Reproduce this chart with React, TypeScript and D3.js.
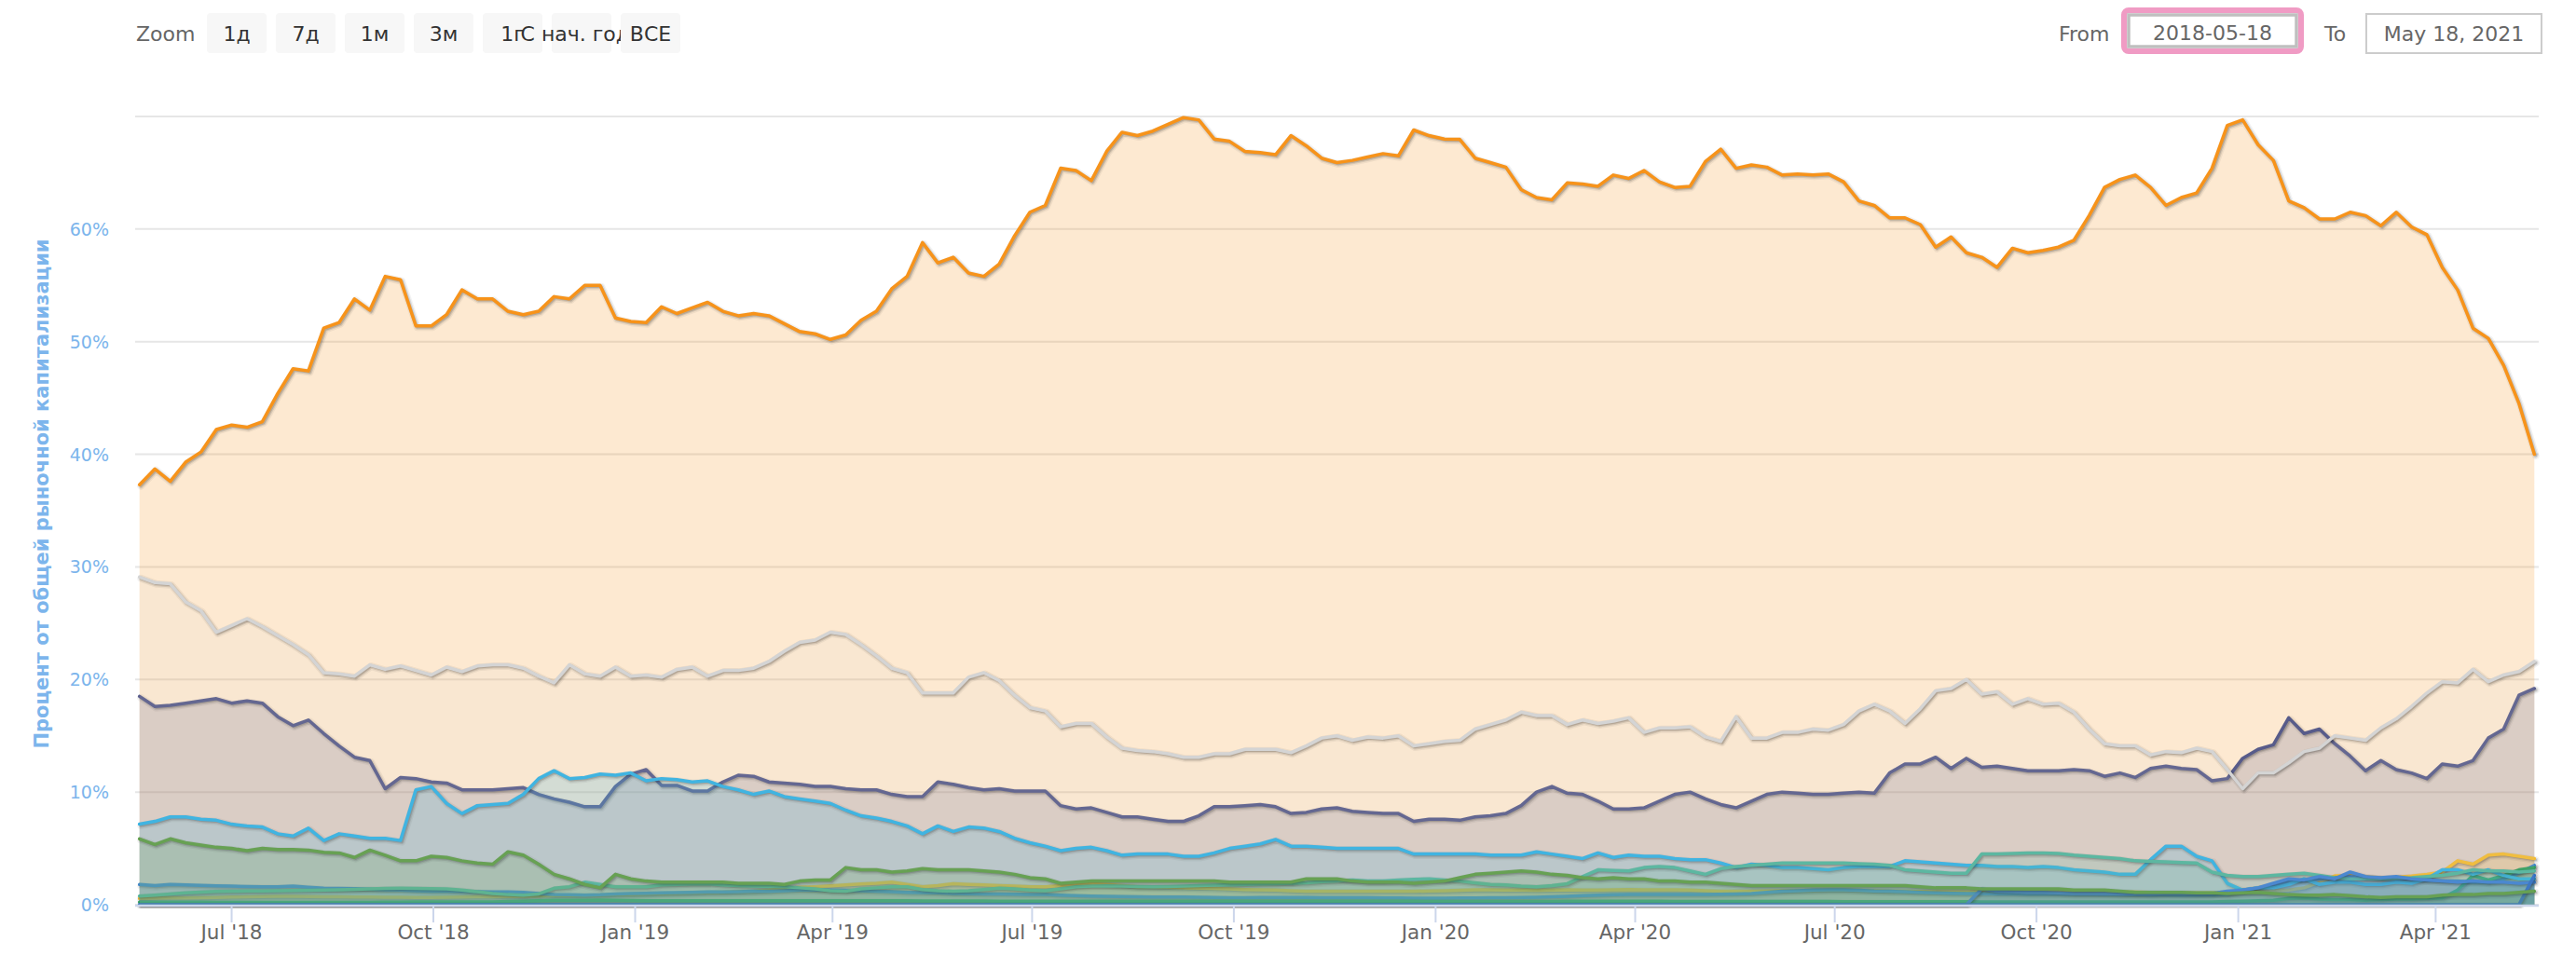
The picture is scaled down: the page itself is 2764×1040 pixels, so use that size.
import React from 'react';
import * as d3 from 'd3';

const W = 2764;
const H = 1040;
const FONT = "'DejaVu Sans', Verdana, sans-serif";

// weekly snapshots starting 2018-05-20
const START = new Date(2018, 4, 20);
const DOMAIN_START = new Date(2018, 4, 18);
const DOMAIN_END = new Date(2021, 4, 18);

const zoomButtons = ['1д', '7д', '1м', '3м', '1г', 'С нач. года', 'ВСЕ'];
const yTicks = [0, 10, 20, 30, 40, 50, 60, 70];
const yTickLabels = ['0%', '10%', '20%', '30%', '40%', '50%', '60%'];
const yTitle = 'Процент от общей рыночной капитализации';
const fromLabel = '2018-05-18';
const toLabel = 'May 18, 2021';

const btc = [
  37.3, 38.7, 37.6, 39.3, 40.2, 42.2, 42.6, 42.4, 42.9, 45.4,
  47.6, 47.4, 51.2, 51.7, 53.8, 52.8, 55.8, 55.5, 51.4, 51.4,
  52.4, 54.6, 53.8, 53.8, 52.7, 52.4, 52.7, 54.0, 53.8, 55.0,
  55.0, 52.1, 51.8, 51.7, 53.1, 52.5, 53.0, 53.5, 52.7, 52.3,
  52.5, 52.3, 51.6, 50.9, 50.7, 50.2, 50.6, 51.9, 52.7, 54.7,
  55.8, 58.8, 57.0, 57.5, 56.1, 55.8, 56.9, 59.4, 61.5, 62.1,
  65.4, 65.2, 64.3, 66.9, 68.6, 68.3, 68.7, 69.3, 69.9, 69.7,
  68.0, 67.8, 66.9, 66.8, 66.6, 68.3, 67.4, 66.3, 65.9, 66.1,
  66.4, 66.7, 66.5, 68.8, 68.3, 68.0, 67.97, 66.3, 65.9, 65.5,
  63.5, 62.8, 62.6, 64.1, 64.0, 63.8, 64.8, 64.5, 65.2, 64.2,
  63.7, 63.8, 66.0, 67.1, 65.4, 65.7, 65.5, 64.8, 64.9, 64.8,
  64.9, 64.2, 62.5, 62.1, 61.0, 61.0, 60.4, 58.4, 59.3, 57.9,
  57.5, 56.6, 58.3, 57.9, 58.1, 58.4, 59.0, 61.2, 63.7, 64.4,
  64.8, 63.7, 62.1, 62.8, 63.2, 65.4, 69.2, 69.7, 67.5, 66.1,
  62.5, 61.9, 60.9, 60.9, 61.5, 61.2, 60.3, 61.5, 60.2, 59.5,
  56.6, 54.6, 51.2, 50.3, 47.9, 44.5, 40.0,
];

const eth = [
  18.5, 17.6, 17.7, 17.9, 18.1, 18.3, 17.9, 18.1, 17.9, 16.7,
  15.9, 16.4, 15.2, 14.1, 13.1, 12.8, 10.3, 11.3, 11.2, 10.9,
  10.8, 10.2, 10.2, 10.2, 10.3, 10.4, 9.8, 9.4, 9.1, 8.7,
  8.7, 10.5, 11.6, 12.0, 10.6, 10.6, 10.1, 10.1, 10.9, 11.5,
  11.4, 10.9, 10.8, 10.7, 10.5, 10.5, 10.3, 10.2, 10.2, 9.8,
  9.6, 9.6, 10.9, 10.7, 10.4, 10.2, 10.3, 10.1, 10.1, 10.1,
  8.8, 8.5, 8.6, 8.2, 7.8, 7.8, 7.6, 7.4, 7.4, 7.9,
  8.7, 8.7, 8.8, 8.9, 8.7, 8.1, 8.2, 8.5, 8.6, 8.3,
  8.2, 8.1, 8.1, 7.4, 7.6, 7.6, 7.5, 7.8, 7.9, 8.1,
  8.8, 10.0, 10.5, 9.9, 9.8, 9.2, 8.5, 8.5, 8.6, 9.2,
  9.8, 10.0, 9.4, 8.9, 8.6, 9.2, 9.8, 10.0, 9.9, 9.8,
  9.8, 9.9, 10.0, 9.9, 11.7, 12.5, 12.5, 13.1, 12.1, 13.0,
  12.2, 12.3, 12.1, 11.9, 11.9, 11.9, 12.0, 11.9, 11.4, 11.7,
  11.3, 12.1, 12.3, 12.1, 12.0, 11.0, 11.2, 13.0, 13.8, 14.2,
  16.6, 15.2, 15.6, 14.3, 13.2, 11.9, 12.8, 12.0, 11.7, 11.2,
  12.5, 12.3, 12.8, 14.8, 15.6, 18.6, 19.2,
];

const bnb = [
  0.55, 0.58, 0.6, 0.6, 0.62, 0.65, 0.68, 0.7, 0.72, 0.75,
  0.75, 0.72, 0.7, 0.7, 0.68, 0.68, 0.66, 0.66, 0.65, 0.65,
  0.66, 0.68, 0.7, 0.7, 0.72, 0.75, 0.77, 0.8, 0.8, 0.82,
  0.85, 0.9, 0.91, 0.95, 1.0, 1.02, 1.05, 1.1, 1.12, 1.15,
  1.2, 1.3, 1.45, 1.55, 1.6, 1.68, 1.75, 1.85, 1.9, 2.0,
  1.8, 1.6, 1.7, 1.87, 1.8, 1.75, 1.7, 1.65, 1.6, 1.6,
  1.7, 1.75, 1.87, 1.8, 1.7, 1.6, 1.6, 1.55, 1.5, 1.46,
  1.45, 1.4, 1.35, 1.32, 1.3, 1.25, 1.2, 1.2, 1.19, 1.19,
  1.19, 1.2, 1.2, 1.2, 1.22, 1.25, 1.28, 1.32, 1.32, 1.3,
  1.3, 1.28, 1.3, 1.32, 1.3, 1.3, 1.32, 1.35, 1.32, 1.32,
  1.32, 1.3, 1.25, 1.2, 1.19, 1.2, 1.22, 1.24, 1.26, 1.28,
  1.3, 1.32, 1.28, 1.25, 1.2, 1.19, 1.18, 1.15, 1.13, 1.13,
  1.15, 1.18, 1.19, 1.19, 1.2, 1.19, 1.19, 1.17, 1.15, 1.14,
  1.13, 1.1, 1.08, 1.05, 1.05, 1.06, 1.1, 1.13, 1.18, 1.25,
  1.3, 1.5, 2.0, 2.56, 2.6, 2.5, 2.4, 2.45, 2.55, 2.7,
  2.9, 3.9, 3.6, 4.4, 4.5, 4.3, 4.1,
];

const ada = [
  1.79, 1.7, 1.8, 1.75, 1.72, 1.68, 1.65, 1.62, 1.6, 1.6,
  1.65, 1.55, 1.46, 1.45, 1.42, 1.38, 1.32, 1.3, 1.25, 1.19,
  1.19, 1.17, 1.15, 1.13, 1.13, 1.1, 1.0, 0.91, 0.88, 0.85,
  0.88, 0.96, 1.0, 1.02, 1.05, 1.08, 1.1, 1.13, 1.13, 1.15,
  1.19, 1.2, 1.25, 1.3, 1.32, 1.3, 1.28, 1.25, 1.2, 1.15,
  1.1, 1.08, 1.05, 1.0, 0.98, 0.96, 0.95, 0.93, 0.91, 0.9,
  0.85, 0.8, 0.77, 0.75, 0.72, 0.7, 0.69, 0.69, 0.68, 0.67,
  0.65, 0.63, 0.63, 0.64, 0.65, 0.65, 0.64, 0.63, 0.63, 0.62,
  0.62, 0.6, 0.6, 0.58, 0.58, 0.58, 0.6, 0.6, 0.62, 0.63,
  0.65, 0.66, 0.7, 0.75, 0.8, 0.85, 0.88, 0.9, 0.9, 0.91,
  0.91, 0.91, 0.92, 0.93, 0.95, 1.0, 1.1, 1.2, 1.25, 1.3,
  1.32, 1.32, 1.28, 1.22, 1.2, 1.15, 1.1, 1.05, 1.02, 1.0,
  1.0, 0.98, 0.97, 0.96, 0.95, 0.95, 0.94, 0.93, 0.92, 0.9,
  0.88, 0.87, 0.86, 0.85, 0.85, 0.86, 0.9, 1.3, 1.5, 1.74,
  2.07, 2.2, 2.3, 2.4, 2.5, 2.4, 2.35, 2.3, 2.25, 2.2,
  2.1, 2.1, 2.0, 2.0, 2.3, 2.8, 3.5,
];

const doge = [
  0.22, 0.22, 0.22, 0.22, 0.22, 0.2, 0.2, 0.2, 0.2, 0.2,
  0.2, 0.2, 0.2, 0.2, 0.2, 0.2, 0.22, 0.22, 0.25, 0.25,
  0.25, 0.25, 0.25, 0.25, 0.28, 0.3, 0.35, 0.4, 0.4, 0.4,
  0.42, 0.4, 0.38, 0.36, 0.35, 0.35, 0.35, 0.36, 0.36, 0.36,
  0.36, 0.36, 0.35, 0.35, 0.35, 0.35, 0.36, 0.36, 0.36, 0.35,
  0.35, 0.34, 0.34, 0.34, 0.33, 0.33, 0.32, 0.32, 0.3, 0.3,
  0.3, 0.3, 0.3, 0.3, 0.3, 0.3, 0.3, 0.3, 0.3, 0.3,
  0.3, 0.3, 0.3, 0.3, 0.3, 0.3, 0.3, 0.3, 0.3, 0.3,
  0.3, 0.3, 0.3, 0.3, 0.28, 0.28, 0.28, 0.28, 0.28, 0.28,
  0.28, 0.28, 0.28, 0.3, 0.3, 0.3, 0.3, 0.3, 0.3, 0.3,
  0.28, 0.28, 0.28, 0.28, 0.28, 0.28, 0.28, 0.28, 0.28, 0.28,
  0.28, 0.27, 0.27, 0.27, 0.27, 0.26, 0.26, 0.26, 0.26, 0.26,
  0.25, 0.25, 0.25, 0.25, 0.25, 0.25, 0.25, 0.25, 0.25, 0.25,
  0.25, 0.25, 0.25, 0.25, 0.25, 0.25, 0.28, 0.3, 0.35, 0.4,
  0.55, 0.6, 0.5, 0.45, 0.45, 0.4, 0.45, 0.5, 0.5, 0.55,
  0.6, 1.3, 2.6, 2.2, 2.6, 3.1, 3.3,
];

const xrp = [
  7.15, 7.4, 7.8, 7.8, 7.6, 7.5, 7.15, 7.0, 6.9, 6.3,
  6.1, 6.8, 5.7, 6.3, 6.1, 5.9, 5.9, 5.7, 10.2, 10.5,
  9.0, 8.1, 8.8, 8.9, 9.0, 9.8, 11.2, 11.9, 11.2, 11.3,
  11.6, 11.5, 11.7, 11.0, 11.2, 11.1, 10.9, 11.0, 10.5, 10.2,
  9.8, 10.1, 9.6, 9.4, 9.2, 9.0, 8.4, 7.9, 7.7, 7.4,
  7.0, 6.3, 7.0, 6.5, 6.9, 6.8, 6.5, 5.9, 5.5, 5.2,
  4.8, 5.0, 5.1, 4.8, 4.4, 4.5, 4.5, 4.5, 4.3, 4.3,
  4.6, 5.0, 5.2, 5.4, 5.8, 5.2, 5.2, 5.1, 5.0, 5.0,
  5.0, 5.0, 5.0, 4.5, 4.5, 4.5, 4.5, 4.5, 4.4, 4.4,
  4.4, 4.7, 4.5, 4.3, 4.1, 4.6, 4.2, 4.4, 4.3, 4.3,
  4.1, 4.0, 4.0, 3.7, 3.3, 3.6, 3.5, 3.3, 3.3, 3.2,
  3.1, 3.3, 3.4, 3.4, 3.4, 3.9, 3.8, 3.7, 3.6, 3.5,
  3.5, 3.4, 3.4, 3.3, 3.4, 3.3, 3.1, 3.0, 2.9, 2.7,
  2.7, 4.0, 5.2, 5.2, 4.3, 3.9, 1.9, 1.3, 1.5, 1.5,
  1.8, 2.3, 1.8, 2.0, 2.0, 1.8, 1.8, 2.0, 1.9, 2.3,
  3.1, 3.1, 2.7, 3.1, 2.6, 2.3, 2.3,
];

const usdt = [
  0.77, 0.85, 0.96, 1.05, 1.12, 1.18, 1.2, 1.22, 1.23, 1.24,
  1.26, 1.28, 1.3, 1.32, 1.36, 1.4, 1.45, 1.46, 1.44, 1.42,
  1.4, 1.3, 1.15, 1.0, 0.9, 0.85, 0.96, 1.46, 1.6, 2.0,
  1.8, 1.6, 1.6, 1.6, 1.75, 1.8, 1.85, 1.87, 1.75, 1.7,
  1.65, 1.62, 1.6, 1.5, 1.4, 1.25, 1.2, 1.4, 1.5, 1.6,
  1.6, 1.35, 1.25, 1.19, 1.25, 1.35, 1.46, 1.4, 1.3, 1.24,
  1.4, 1.6, 1.65, 1.68, 1.65, 1.62, 1.6, 1.62, 1.65, 1.7,
  1.74, 1.76, 1.8, 1.85, 1.87, 1.9, 1.95, 2.05, 2.1, 2.2,
  2.1, 2.1, 2.2, 2.25, 2.3, 2.2, 2.1, 1.95, 1.8, 1.75,
  1.65, 1.6, 1.7, 1.87, 2.5, 3.1, 3.05, 3.0, 3.3, 3.4,
  3.3, 3.0, 2.7, 3.2, 3.4, 3.5, 3.6, 3.7, 3.7, 3.7,
  3.7, 3.7, 3.65, 3.6, 3.5, 3.1, 3.0, 2.9, 2.8, 2.8,
  4.5, 4.5, 4.55, 4.6, 4.6, 4.55, 4.4, 4.3, 4.2, 4.1,
  3.9, 3.85, 3.8, 3.75, 3.7, 2.9, 2.6, 2.5, 2.5, 2.6,
  2.7, 2.8, 2.6, 2.4, 2.3, 2.3, 2.3, 2.35, 2.4, 2.5,
  2.6, 2.8, 3.1, 3.0, 3.0, 2.9, 3.0,
];

const dot = [
  0, 0, 0, 0, 0, 0, 0, 0, 0, 0, 0, 0, 0, 0, 0, 0, 0, 0, 0, 0,
  0, 0, 0, 0, 0, 0, 0, 0, 0, 0, 0, 0, 0, 0, 0, 0, 0, 0, 0, 0,
  0, 0, 0, 0, 0, 0, 0, 0, 0, 0, 0, 0, 0, 0, 0, 0, 0, 0, 0, 0,
  0, 0, 0, 0, 0, 0, 0, 0, 0, 0, 0, 0, 0, 0, 0, 0, 0, 0, 0, 0,
  0, 0, 0, 0, 0, 0, 0, 0, 0, 0, 0, 0, 0, 0, 0, 0, 0, 0, 0, 0,
  0, 0, 0, 0, 0, 0, 0, 0, 0, 0, 0, 0, 0, 0, 0, 0, 0, 0, 0, 0,
  1.4, 1.2, 1.15, 1.1, 1.1, 1.05, 1.0, 1.0, 1.0, 0.95,
  0.95, 0.95, 1.0, 1.0, 1.0, 1.0, 1.2, 1.3, 1.5, 1.9,
  2.3, 2.2, 2.5, 2.3, 2.9, 2.5, 2.4, 2.5, 2.3, 2.2,
  2.1, 2.0, 2.1, 2.0, 2.0, 1.9, 2.0,
];

const icp = [
  0, 0, 0, 0, 0, 0, 0, 0, 0, 0, 0, 0, 0, 0, 0, 0, 0, 0, 0, 0,
  0, 0, 0, 0, 0, 0, 0, 0, 0, 0, 0, 0, 0, 0, 0, 0, 0, 0, 0, 0,
  0, 0, 0, 0, 0, 0, 0, 0, 0, 0, 0, 0, 0, 0, 0, 0, 0, 0, 0, 0,
  0, 0, 0, 0, 0, 0, 0, 0, 0, 0, 0, 0, 0, 0, 0, 0, 0, 0, 0, 0,
  0, 0, 0, 0, 0, 0, 0, 0, 0, 0, 0, 0, 0, 0, 0, 0, 0, 0, 0, 0,
  0, 0, 0, 0, 0, 0, 0, 0, 0, 0, 0, 0, 0, 0, 0, 0, 0, 0, 0, 0,
  0, 0, 0, 0, 0, 0, 0, 0, 0, 0, 0, 0, 0, 0, 0, 0, 0, 0, 0, 0,
  0, 0, 0, 0, 0, 0, 0, 0, 0, 0, 0, 0, 0, 0, 0, 0, 2.6,
];

const bch = [
  5.85, 5.35, 5.85, 5.5, 5.3, 5.1, 5.0, 4.8, 5.0, 4.9,
  4.9, 4.85, 4.65, 4.6, 4.2, 4.85, 4.4, 3.9, 3.9, 4.3,
  4.2, 3.9, 3.7, 3.6, 4.7, 4.4, 3.6, 2.7, 2.3, 1.8,
  1.5, 2.7, 2.3, 2.1, 2.0, 2.0, 2.0, 2.0, 2.0, 1.9,
  1.9, 1.9, 1.8, 2.1, 2.2, 2.2, 3.3, 3.1, 3.1, 2.9,
  3.0, 3.2, 3.1, 3.1, 3.1, 3.0, 2.9, 2.7, 2.4, 2.3,
  1.9, 2.0, 2.1, 2.1, 2.1, 2.1, 2.1, 2.1, 2.1, 2.1,
  2.1, 2.0, 2.0, 2.0, 2.0, 2.0, 2.3, 2.3, 2.3, 2.1,
  2.0, 2.0, 2.0, 1.9, 2.0, 2.1, 2.4, 2.7, 2.8, 2.9,
  3.0, 2.9, 2.7, 2.6, 2.4, 2.3, 2.4, 2.3, 2.3, 2.1,
  2.1, 2.0, 2.0, 1.9, 1.8, 1.7, 1.7, 1.7, 1.7, 1.7,
  1.7, 1.7, 1.7, 1.7, 1.7, 1.7, 1.6, 1.5, 1.5, 1.5,
  1.4, 1.4, 1.4, 1.4, 1.4, 1.4, 1.3, 1.3, 1.3, 1.2,
  1.1, 1.1, 1.1, 1.1, 1.05, 1.05, 1.0, 1.05, 1.1, 1.0,
  0.9, 0.85, 0.85, 0.9, 0.8, 0.7, 0.65, 0.7, 0.7, 0.7,
  0.85, 0.9, 0.9, 1.0, 1.0, 1.1, 1.2,
];

const others = [
  29.1, 28.6, 28.5, 26.9, 26.1, 24.2, 24.8, 25.4, 24.7, 23.9,
  23.1, 22.2, 20.6, 20.5, 20.3, 21.3, 20.9, 21.2, 20.8, 20.4,
  21.1, 20.7, 21.2, 21.3, 21.3, 21.0, 20.3, 19.7, 21.3, 20.5,
  20.3, 21.1, 20.3, 20.4, 20.2, 20.9, 21.1, 20.3, 20.8, 20.8,
  21.0, 21.6, 22.5, 23.3, 23.5, 24.2, 24.0, 23.1, 22.1, 21.0,
  20.6, 18.8, 18.8, 18.8, 20.2, 20.6, 19.9, 18.6, 17.5, 17.2,
  15.8, 16.1, 16.1, 14.9, 13.9, 13.7, 13.6, 13.4, 13.1, 13.1,
  13.4, 13.4, 13.8, 13.8, 13.8, 13.5, 14.1, 14.8, 15.0, 14.6,
  14.9, 14.8, 15.0, 14.1, 14.3, 14.5, 14.6, 15.6, 16.0, 16.4,
  17.1, 16.8, 16.8, 16.0, 16.4, 16.1, 16.3, 16.6, 15.3, 15.7,
  15.7, 15.8, 14.9, 14.5, 16.7, 14.8, 14.8, 15.3, 15.3, 15.6,
  15.5, 16.0, 17.2, 17.8, 17.2, 16.1, 17.4, 19.0, 19.2, 20.0,
  18.7, 18.9, 17.8, 18.3, 17.8, 17.9, 17.1, 15.6, 14.3, 14.1,
  14.1, 13.3, 13.6, 13.5, 13.9, 13.6, 12.0, 10.3, 11.7, 11.7,
  12.6, 13.6, 13.9, 15.0, 14.8, 14.6, 15.7, 16.5, 17.6, 18.8,
  19.8, 19.7, 20.9, 19.8, 20.4, 20.7, 21.6,
];

const seriesNames = ['BTC', 'ETH', 'BNB', 'ADA', 'DOGE', 'XRP', 'USDT', 'DOT', 'ICP', 'BCH', 'Others'];
const seriesValues = [btc, eth, bnb, ada, doge, xrp, usdt, dot, icp, bch, others];
const seriesColors = ['#f7931a', '#575b8a', '#f3ba2f', '#3f84c8', '#2e9e5b', '#2fb0e3', '#4fb49b', '#3b7fd0', '#2d6ec2', '#5b9b45', '#d4d4d4'];
const seriesFillOpacity = [0.2, 0.2, 0.2, 0.2, 0.2, 0.2, 0.2, 0.2, 0.2, 0.2, 0.1];

const dates = btc.map((_, i) => d3.timeDay.offset(START, 7 * i));

export default function App() {
  const left = 145, right = 2724, top = 125, bottom = 971;
  const x = d3.scaleTime().domain([DOMAIN_START, DOMAIN_END]).range([left, right]);
  const y = d3.scaleLinear().domain([0, 70]).range([bottom, top]);
  const area = d3.area<number>().x((_, i) => x(dates[i])).y0(y(0)).y1((d) => y(d));
  const line = d3.line<number>().x((_, i) => x(dates[i])).y((d) => y(d));
  const xTicks = x.ticks(d3.timeMonth.every(3) as any);
  const fmt = d3.timeFormat("%b '%y");

  return (
    <svg width={W} height={H} style={{ position: 'absolute', left: 0, top: 0, background: '#fff' }} fontFamily={FONT}>
      <rect x={0} y={0} width={W} height={H} fill="#fff" />
      {/* range selector */}
      <text x={146} y={44} fontSize={22} fill="#666">Zoom</text>
      {zoomButtons.map((b, k) => (
        <g key={b}>
          <rect x={222 + 74 * k} y={14} width={64} height={43} rx={4} fill="#f7f7f7" />
          <text x={254 + 74 * k} y={44} fontSize={22} fill="#333" textAnchor="middle">{b}</text>
        </g>
      ))}
      <text x={2209} y={44} fontSize={22} fill="#666">From</text>
      <rect x={2279} y={11} width={190} height={44} rx={5} fill="#fff" stroke="#f09bc4" strokeWidth={6} />
      <rect x={2284} y={16} width={180} height={34} fill="#fff" stroke="#bfbfbf" strokeWidth={3.5} />
      <text x={2374} y={43} fontSize={22} fill="#666" textAnchor="middle">{fromLabel}</text>
      <text x={2494} y={44} fontSize={22} fill="#666">To</text>
      <rect x={2539} y={15} width={188} height={42} fill="#fff" stroke="#cccccc" strokeWidth={2} />
      <text x={2633} y={44} fontSize={22} fill="#666" textAnchor="middle">{toLabel}</text>

      {/* grid */}
      {yTicks.map((t) => (
        <line key={t} x1={left} x2={right} y1={y(t)} y2={y(t)} stroke="#e6e6e6" strokeWidth={2} />
      ))}
      {yTickLabels.map((l, k) => (
        <text key={l} x={117} y={y(yTicks[k]) + 7} fontSize={19} fill="#7cb5ec" textAnchor="end">{l}</text>
      ))}
      <text transform={`translate(45,530) rotate(-90)`} textAnchor="middle" dominantBaseline="central" fontSize={21} fontWeight="bold" fill="#7cb5ec">{yTitle}</text>

      {/* series */}
      <defs>
        <clipPath id="plotclip">
          <rect x={left} y={top - 10} width={right - left + 4} height={bottom - top + 14} />
        </clipPath>
      </defs>
      <g clipPath="url(#plotclip)">
        {seriesValues.map((vals, s) => (
          <g key={seriesNames[s]}>
            <path d={area(vals) || ''} fill={seriesColors[s]} fillOpacity={seriesFillOpacity[s]} />
            <g transform="translate(1.5,1.5)" fill="none" strokeLinejoin="round" strokeLinecap="round">
              <path d={line(vals) || ''} stroke="#000" strokeOpacity={0.05} strokeWidth={8} />
              <path d={line(vals) || ''} stroke="#000" strokeOpacity={0.1} strokeWidth={5} />
              <path d={line(vals) || ''} stroke="#000" strokeOpacity={0.15} strokeWidth={2.5} />
            </g>
            <path d={line(vals) || ''} fill="none" stroke={seriesColors[s]} strokeWidth={3.5} strokeLinejoin="round" strokeLinecap="round" />
          </g>
        ))}
      </g>

      {/* x axis */}
      <line x1={left} x2={right} y1={bottom + 1} y2={bottom + 1} stroke="#ccd6eb" strokeWidth={2.5} />
      {xTicks.map((t) => (
        <g key={t.toISOString()}>
          <line x1={x(t)} x2={x(t)} y1={bottom + 1} y2={bottom + 19} stroke="#ccd6eb" strokeWidth={2} />
          <text x={x(t)} y={1008} fontSize={21.5} fill="#666" textAnchor="middle">{fmt(t)}</text>
        </g>
      ))}
    </svg>
  );
}
